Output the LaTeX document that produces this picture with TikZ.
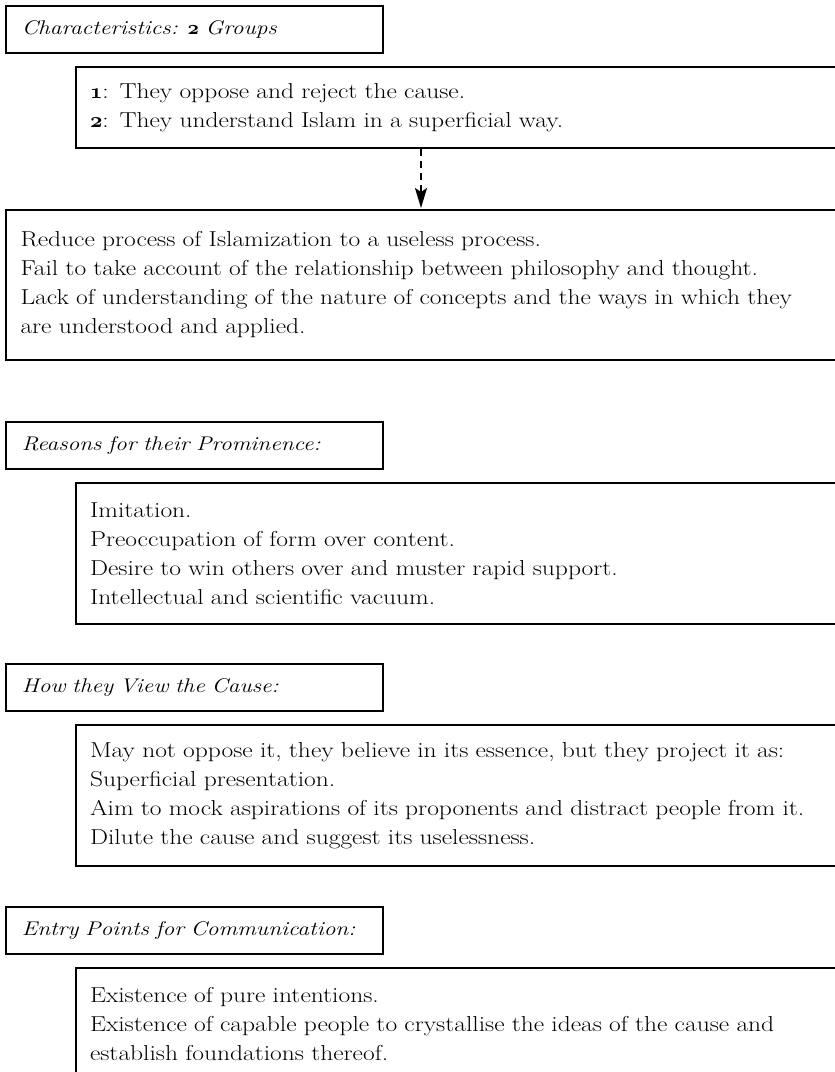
\RequirePackage{fix-cm}
\documentclass[tikz,border=0pt]{standalone}
\usepackage{fontspec}
\setmainfont{Latin Modern Roman}[FakeStretch=1.18]
\usetikzlibrary{arrows.meta}
\newcommand{\osnum}[1]{{\boldmath$\mathnormal{#1}$}}
\begin{document}
\begin{tikzpicture}[x=1pt,y=-1pt,
  lab/.style={draw, line width=1.6pt, anchor=north west, text width=345pt,
    inner xsep=16pt, inner ysep=0pt, minimum height=47pt, align=left,
    font=\fontsize{19.8}{29}\selectfont\itshape},
  big/.style={draw, line width=2pt, anchor=north west, inner xsep=14pt,
    inner ysep=0pt, align=left, font=\fontsize{21.6}{29}\selectfont},
  arr/.style={line width=1.8pt, dash pattern=on 7pt off 5pt,
    -{Stealth[length=20pt,width=12pt,inset=4pt]}, shorten >=1pt}
]
\useasboundingbox (0,0) rectangle (835,1072);

\node[lab] (lab1) at (5,5) {Characteristics: {\upshape\osnum{2}} Groups};
\node[big, text width=732pt, minimum height=81pt] (grp) at (75,66)
  {\osnum{1}: They oppose and reject the cause.\\
   \osnum{2}: They understand Islam in a superficial way.};
\node[big, text width=801pt, inner xsep=14.5pt, minimum height=150pt] (red) at (5,209)
  {Reduce process of Islamization to a useless process.\\
   Fail to take account of the relationship between philosophy and thought.\\
   Lack of understanding of the nature of concepts and the ways in which they\\
   are understood and applied.};
\coordinate (ax) at (421,0);
\draw[arr] (grp.south -| ax) -- (red.north -| ax);

\node[lab] (lab2) at (5,421) {Reasons for their Prominence:};
\node[big, text width=732pt, minimum height=141pt] (rea) at (75,482)
  {Imitation.\\
   Preoccupation of form over content.\\
   Desire to win others over and muster rapid support.\\
   Intellectual and scientific vacuum.};

\node[lab] (lab3) at (5,663) {How they View the Cause:};
\node[big, text width=732pt, minimum height=141pt] (view) at (75,724)
  {May not oppose it, they believe in its essence, but they project it as:\\
   Superficial presentation.\\
   Aim to mock aspirations of its proponents and distract people from it.\\
   Dilute the cause and suggest its uselessness.};

\node[lab] (lab4) at (5,906) {Entry Points for Communication:};
\node[big, text width=732pt, minimum height=111pt] (entry) at (75,967)
  {Existence of pure intentions.\\
   Existence of capable people to crystallise the ideas of the cause and\\
   establish foundations thereof.};
\end{tikzpicture}
\end{document}
